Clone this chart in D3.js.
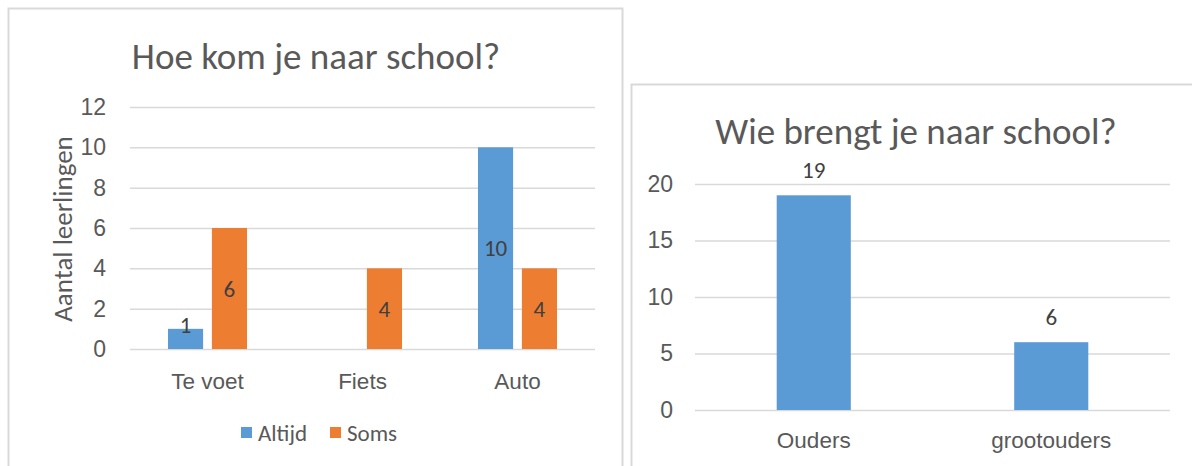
<!DOCTYPE html>
<html>
<head>
<meta charset="utf-8">
<script src="https://cdn.jsdelivr.net/npm/d3@7"></script>
<style>
    body { margin: 0; background: #fff; }
    svg { display: block; font-family: Carlito, Calibri, Lato, sans-serif; }
</style>
</head>
<body>
<svg id="chart"></svg>
<script>
// chart 1: Hoe kom je naar school?
const travelCategories = ['Te voet', 'Fiets', 'Auto'];
const travelSeries = ['Altijd', 'Soms'];
const altijdValues = [1, null, 10];
const somsValues = [6, 4, 4];
const travelTicks = [0, 2, 4, 6, 8, 10, 12];

// chart 2: Wie brengt je naar school?
const bringCategories = ['Ouders', 'grootouders'];
const bringValues = [19, 6];
const bringTicks = [0, 5, 10, 15, 20];

const colors = { Altijd: '#5b9bd5', Soms: '#ed7d31' };
const textColor = '#595959';
const labelColor = '#404040';
const gridColor = '#d9d9d9';

const svg = d3.select('#chart')
    .attr('width', 1192)
    .attr('height', 466);

// chart frames
svg.append('rect')
    .attr('x', 8.5).attr('y', 8.5)
    .attr('width', 614).attr('height', 520)
    .attr('fill', '#fff')
    .attr('stroke', gridColor).attr('stroke-width', 2);

svg.append('rect')
    .attr('x', 631.5).attr('y', 84.5)
    .attr('width', 620).attr('height', 440)
    .attr('fill', '#fff')
    .attr('stroke', gridColor).attr('stroke-width', 2);

function styleGrid(g) {
    g.select('.domain').remove();
    g.selectAll('.tick line')
        .attr('stroke', gridColor)
        .attr('stroke-width', 1.5);
    g.selectAll('.tick text')
        .attr('fill', textColor)
        .style('font-size', '23px');
}

function styleCats(g) {
    g.select('.domain').remove();
    g.selectAll('.tick text')
        .attr('fill', textColor)
        .style('font-size', '22.5px');
}

// ---------- left chart ----------
{
    const left = 130, right = 595, top = 107, bottom = 349;

    const x0 = d3.scaleBand()
        .domain(travelCategories)
        .range([left, right])
        .paddingInner(0.49)
        .paddingOuter(0.245);

    const x1 = d3.scaleBand()
        .domain(travelSeries)
        .range([0, x0.bandwidth()])
        .paddingInner(0.2);

    const y = d3.scaleLinear()
        .domain([0, 12])
        .range([bottom, top]);

    svg.append('g')
        .attr('transform', `translate(${left},0)`)
        .call(d3.axisLeft(y).tickValues(travelTicks).tickSize(-(right - left)).tickPadding(24))
        .call(styleGrid);

    svg.append('g')
        .attr('transform', `translate(0,${bottom})`)
        .call(d3.axisBottom(x0).tickSize(0).tickPadding(24))
        .call(styleCats);

    const rows = [];
    travelCategories.forEach((c, i) => {
        rows.push({ cat: c, series: 'Altijd', value: altijdValues[i] });
        rows.push({ cat: c, series: 'Soms', value: somsValues[i] });
    });
    const bars = rows.filter(d => d.value != null);

    svg.append('g')
        .selectAll('rect')
        .data(bars)
        .join('rect')
        .attr('x', d => x0(d.cat) + x1(d.series))
        .attr('y', d => y(d.value))
        .attr('width', x1.bandwidth())
        .attr('height', d => y(0) - y(d.value))
        .attr('fill', d => colors[d.series]);

    svg.append('g')
        .selectAll('text')
        .data(bars)
        .join('text')
        .attr('x', d => x0(d.cat) + x1(d.series) + x1.bandwidth() / 2)
        .attr('y', d => {
            const h = y(0) - y(d.value);
            return h < 25 ? y(d.value) - 4 : (y(d.value) + y(0)) / 2;
        })
        .attr('text-anchor', 'middle')
        .attr('dominant-baseline', 'central')
        .attr('fill', labelColor)
        .style('font-size', '23px')
        .text(d => d.value);

    svg.append('text')
        .attr('x', 316).attr('y', 69)
        .attr('text-anchor', 'middle')
        .attr('fill', textColor)
        .style('font-size', '37px')
        .text('Hoe kom je naar school?');

    svg.append('text')
        .attr('transform', 'translate(62,229) rotate(-90)')
        .attr('text-anchor', 'middle')
        .attr('dominant-baseline', 'central')
        .attr('fill', textColor)
        .style('font-size', '27px')
        .text('Aantal leerlingen');

    // legend
    const legend = svg.append('g').attr('transform', 'translate(241,427)');
    const legendX = [0, 89];
    travelSeries.forEach((s, i) => {
        legend.append('rect')
            .attr('x', legendX[i]).attr('y', 0)
            .attr('width', 11).attr('height', 11)
            .attr('fill', colors[s]);
        legend.append('text')
            .attr('x', legendX[i] + 17).attr('y', 6)
            .attr('dominant-baseline', 'central')
            .attr('fill', textColor)
            .style('font-size', '23px')
            .text(s);
    });
}

// ---------- right chart ----------
{
    const left = 695, right = 1170, top = 184, bottom = 410;

    const x = d3.scaleBand()
        .domain(bringCategories)
        .range([left, right])
        .paddingInner(0.688)
        .paddingOuter(0.344);

    const y = d3.scaleLinear()
        .domain([0, 20])
        .range([bottom, top]);

    svg.append('g')
        .attr('transform', `translate(${left},0)`)
        .call(d3.axisLeft(y).tickValues(bringTicks).tickSize(-(right - left)).tickPadding(22))
        .call(styleGrid);

    svg.append('g')
        .attr('transform', `translate(0,${bottom})`)
        .call(d3.axisBottom(x).tickSize(0).tickPadding(22))
        .call(styleCats);

    svg.append('g')
        .selectAll('rect')
        .data(bringValues)
        .join('rect')
        .attr('x', (d, i) => x(bringCategories[i]))
        .attr('y', d => y(d))
        .attr('width', x.bandwidth())
        .attr('height', d => y(0) - y(d))
        .attr('fill', colors.Altijd);

    svg.append('g')
        .selectAll('text')
        .data(bringValues)
        .join('text')
        .attr('x', (d, i) => x(bringCategories[i]) + x.bandwidth() / 2)
        .attr('y', d => y(d) - 17)
        .attr('text-anchor', 'middle')
        .attr('fill', labelColor)
        .style('font-size', '23px')
        .text(d => d);

    svg.append('text')
        .attr('x', 916).attr('y', 144)
        .attr('text-anchor', 'middle')
        .attr('fill', textColor)
        .style('font-size', '37px')
        .text('Wie brengt je naar school?');
}
</script>
</body>
</html>
